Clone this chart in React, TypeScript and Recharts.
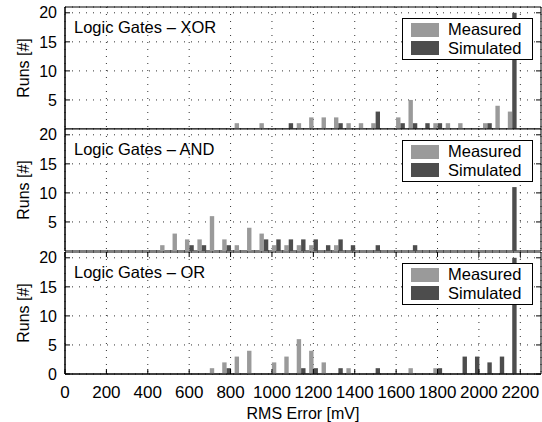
import React from 'react';
import { BarChart, Bar, XAxis, YAxis, CartesianGrid, Legend, Customized, ReferenceArea } from 'recharts';

// histogram bin centres (mV), 60 mV wide
const bins = [
  0, 60, 120, 180, 240, 300, 360, 420, 480, 540, 600, 660, 720, 780, 840, 900, 960, 1020, 1080,
  1140, 1200, 1260, 1320, 1380, 1440, 1500, 1560, 1620, 1680, 1740, 1800, 1860, 1920, 1980, 2040,
  2100, 2160,
];

const xorMeasured = [
  0, 0, 0, 0, 0, 0, 0, 0, 0, 0, 0, 0, 0, 0, 1, 0, 1, 0, 0,
  1, 2, 2, 2, 1, 1, 1, 0, 2, 5, 0, 1, 1, 1, 0, 1,
  4, 3,
];
const xorSimulated = [
  0, 0, 0, 0, 0, 0, 0, 0, 0, 0, 0, 0, 0, 0, 0, 0, 0, 0, 1,
  0, 0, 0, 1, 0, 0, 3, 0, 1, 1, 1, 1, 0, 0, 0, 1,
  0, 20,
];

const andMeasured = [
  0, 0, 0, 0, 0, 0, 0, 0, 1, 3, 2, 2, 6, 2, 1, 4, 3, 1, 1,
  1, 1, 0, 1, 0, 0, 0, 0, 0, 0, 0, 0, 0, 0, 0, 0,
  0, 0,
];
const andSimulated = [
  0, 0, 0, 0, 0, 0, 0, 0, 0, 0, 1, 1, 0, 1, 0, 0, 2, 2, 2,
  2, 2, 1, 2, 1, 0, 1, 0, 0, 1, 0, 0, 0, 0, 0, 0,
  0, 11,
];

const orMeasured = [
  0, 0, 0, 0, 0, 0, 0, 0, 0, 0, 0, 0, 1, 2, 3, 4, 0, 2, 3,
  6, 4, 2, 0, 1, 0, 0, 0, 0, 1, 0, 1, 0, 0, 0, 0,
  0, 0,
];
const orSimulated = [
  0, 0, 0, 0, 0, 0, 0, 0, 0, 0, 0, 0, 0, 1, 0, 0, 0, 0, 0,
  1, 1, 0, 1, 0, 0, 1, 0, 0, 0, 0, 1, 0, 3, 3, 2,
  3, 20,
];

const xTicks = [0, 200, 400, 600, 800, 1000, 1200, 1400, 1600, 1800, 2000, 2200];
const yTicks = [5, 10, 15, 20];
const yTicksBottom = [0, 5, 10, 15, 20];

const FONT = "'Liberation Sans', Arial, Helvetica, sans-serif";
const MEASURED_COLOR = '#9a9a9a';
const SIMULATED_COLOR = '#4d4d4d';
const PLOT_W = 476;
const PLOT_H = 122;
const TICK_LEN = 5;
const X_GAP = 12;
const Y_GAP = 8;

// matlab-style ticks: pointing inwards, mirrored on the top/right edge of the box
function BottomTick(props: any) {
  const { x, y, payload, showLabel } = props;
  const axisY = y - X_GAP;
  const topY = axisY - PLOT_H;
  return (
    <g>
      <line x1={x} y1={axisY} x2={x} y2={axisY - TICK_LEN} stroke="#000" />
      <line x1={x} y1={topY} x2={x} y2={topY + TICK_LEN} stroke="#000" />
      {showLabel && (
        <text x={x} y={y} dy="0.71em" textAnchor="middle" fontSize={17} fontFamily={FONT} fill="#000">
          {payload.value}
        </text>
      )}
    </g>
  );
}

function LeftTick(props: any) {
  const { x, y, payload } = props;
  const axisX = x + Y_GAP;
  const rightX = axisX + PLOT_W;
  return (
    <g>
      <line x1={axisX} y1={y} x2={axisX + TICK_LEN} y2={y} stroke="#000" />
      <line x1={rightX} y1={y} x2={rightX - TICK_LEN} y2={y} stroke="#000" />
      <text x={x} y={y} dy="0.355em" textAnchor="end" fontSize={16} fontFamily={FONT} fill="#000">
        {payload.value}
      </text>
    </g>
  );
}

function LegendBox({ payload }: any) {
  return (
    <div
      style={{
        position: 'relative',
        width: 131,
        height: 42,
        boxSizing: 'border-box',
        border: '1px solid #000',
        background: '#fff',
        fontFamily: FONT,
        fontSize: 16.5,
      }}
    >
      {(payload ?? []).map((item: any, i: number) => (
        <div
          key={item.value}
          style={{
            position: 'absolute',
            left: 8.3,
            top: 1.1 + i * 18.4,
            height: 18.4,
            display: 'flex',
            alignItems: 'center',
            whiteSpace: 'nowrap',
          }}
        >
          <span style={{ display: 'inline-block', width: 28, height: 14, background: item.color }} />
          <span style={{ marginLeft: 9, lineHeight: 1, color: '#000' }}>{item.value}</span>
        </div>
      ))}
    </div>
  );
}

function Panel({ title, measured, simulated, chartTop, marginTop, last }: any) {
  const data = bins.map((bin, i) => ({ bin, measured: measured[i], simulated: simulated[i] }));
  const xAxisHeight = last ? 48 : 0;
  const height = marginTop + PLOT_H + xAxisHeight;

  return (
    <div style={{ position: 'absolute', left: 0, top: chartTop }}>
      <BarChart
        width={542}
        height={height}
        data={data}
        margin={{ top: marginTop, right: 1, bottom: 0, left: 0 }}
        barSize={4.4}
        barGap={0}
      >
        <CartesianGrid stroke="#333" strokeDasharray="1 6" />
        <XAxis
          dataKey="bin"
          type="number"
          domain={[0, 2300]}
          ticks={xTicks}
          interval={0}
          height={xAxisHeight}
          tickSize={0}
          tickMargin={X_GAP}
          tickLine={false}
          axisLine={{ stroke: '#000' }}
          tick={(p: any) => <BottomTick {...p} showLabel={last} />}
          label={
            last
              ? {
                  value: 'RMS Error [mV]',
                  position: 'insideBottom',
                  offset: 3,
                  style: { fontSize: 16, fontFamily: FONT, fill: '#000' },
                }
              : undefined
          }
        />
        <YAxis
          type="number"
          domain={[0, 21]}
          ticks={last ? yTicksBottom : yTicks}
          interval={0}
          width={65}
          tickSize={0}
          tickMargin={Y_GAP}
          tickLine={false}
          axisLine={{ stroke: '#000' }}
          tick={(p: any) => <LeftTick {...p} />}
          label={{
            value: 'Runs [#]',
            angle: -90,
            position: 'insideLeft',
            offset: 23,
            style: { textAnchor: 'middle', fontSize: 16, fontFamily: FONT, fill: '#000' },
          }}
        />
        <ReferenceArea x1={0} x2={2300} y1={0} y2={21} fill="none" stroke="#000" strokeWidth={1} />
        <Legend
          layout="vertical"
          align="center"
          verticalAlign="middle"
          content={<LegendBox />}
          wrapperStyle={{ top: marginTop + 11.3, left: 401.7, width: 131, height: 42 }}
        />
        <Bar dataKey="measured" name="Measured" fill={MEASURED_COLOR} isAnimationActive={false} />
        <Bar dataKey="simulated" name="Simulated" fill={SIMULATED_COLOR} isAnimationActive={false} />
        <Customized
          component={() => (
            <text x={74} y={marginTop + 25.5} fontSize={16.5} fontFamily={FONT} fill="#000">
              {title}
            </text>
          )}
        />
      </BarChart>
    </div>
  );
}

export default function App() {
  return (
    <div
      style={{
        position: 'absolute',
        left: 0,
        top: 0,
        width: 542,
        height: 422,
        background: '#fff',
        fontFamily: FONT,
        overflow: 'hidden',
      }}
    >
      <Panel title="Logic Gates – XOR" measured={xorMeasured} simulated={xorSimulated} chartTop={0} marginTop={7} />
      <Panel title="Logic Gates – AND" measured={andMeasured} simulated={andSimulated} chartTop={119} marginTop={10} />
      <Panel title="Logic Gates – OR" measured={orMeasured} simulated={orSimulated} chartTop={242} marginTop={10} last />
    </div>
  );
}
